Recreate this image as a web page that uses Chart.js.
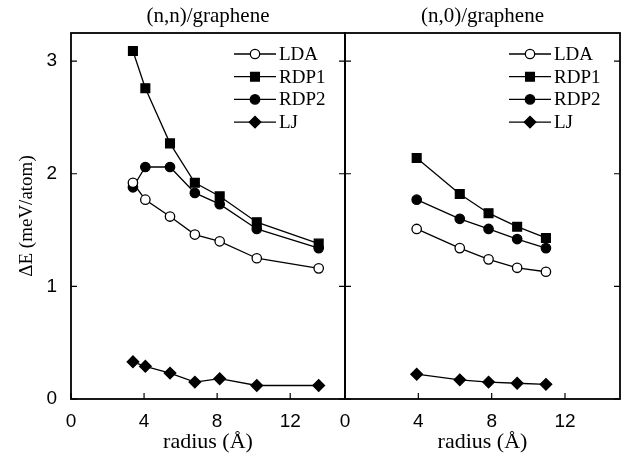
<!DOCTYPE html>
<html>
<head>
<meta charset="utf-8">
<script src="https://cdn.jsdelivr.net/npm/chart.js@4/dist/chart.umd.min.js"></script>
<style>
    body { margin: 0; background: #fff; }
    #wrap { position: relative; width: 631px; height: 457px; }
    canvas { position: absolute; top: 0; }
    #izq { left: 0; }
    #der { left: 335px; }
</style>
</head>
<body>
<div id="wrap">
    <canvas id="izq" width="355" height="457"></canvas>
    <canvas id="der" width="296" height="457"></canvas>
</div>
<script>
// radios de los tubos (Å)
const radioNN = [3.39, 4.07, 5.42, 6.78, 8.14, 10.17, 13.56];
const radioN0 = [3.91, 6.26, 7.83, 9.39, 10.96];

// energias (meV/atom)
const nnLDA = [1.92, 1.77, 1.62, 1.46, 1.40, 1.25, 1.16];
const nnRDP1 = [3.09, 2.76, 2.27, 1.92, 1.80, 1.57, 1.38];
const nnRDP2 = [1.88, 2.06, 2.06, 1.83, 1.73, 1.51, 1.34];
const nnLJ = [0.33, 0.29, 0.23, 0.15, 0.18, 0.12, 0.12];

const n0LDA = [1.51, 1.34, 1.24, 1.165, 1.13];
const n0RDP1 = [2.14, 1.82, 1.65, 1.53, 1.43];
const n0RDP2 = [1.77, 1.60, 1.51, 1.42, 1.34];
const n0LJ = [0.22, 0.17, 0.15, 0.14, 0.13];

const series = ['LDA', 'RDP1', 'RDP2', 'LJ'];
const titulos = ['(n,n)/graphene', '(n,0)/graphene'];
const xTicks = [0, 4, 8, 12];
const yTicks = [0, 1, 2, 3];

const SERIF = "'Liberation Serif', 'DejaVu Serif', serif";
const SANS = "'Liberation Sans', Arial, sans-serif";

const estilos = {
    LDA: {pointStyle: 'circle', radius: 4.7, fill: '#fff'},
    RDP1: {pointStyle: 'rect', radius: 6.2, fill: '#000'},
    RDP2: {pointStyle: 'circle', radius: 4.7, fill: '#000'},
    LJ: {pointStyle: 'rectRot', radius: 5.8, fill: '#000'}
};

function juntar(xs, ys) {
    let puntos = [];
    for (let i = 0; i < xs.length; i++) {
        puntos.push({x: xs[i], y: ys[i]});
    }
    return puntos;
}

function dataset(nombre, xs, ys) {
    let e = estilos[nombre];
    return {
        label: nombre,
        data: juntar(xs, ys),
        showLine: true,
        borderColor: '#000',
        borderWidth: 1.3,
        pointStyle: e.pointStyle,
        pointRadius: e.radius,
        pointHoverRadius: e.radius,
        pointBackgroundColor: e.fill,
        pointBorderColor: '#000',
        pointBorderWidth: 1.3
    };
}

// marco con ticks hacia dentro
const marco = {
    id: 'marco',
    afterDraw(chart) {
        const {ctx, chartArea: a, scales} = chart;
        ctx.save();
        ctx.strokeStyle = '#000';
        ctx.lineWidth = 1.2;
        ctx.beginPath();
        xTicks.forEach(v => {
            let px = scales.x.getPixelForValue(v);
            ctx.moveTo(px, a.bottom);
            ctx.lineTo(px, a.bottom - 6);
        });
        yTicks.forEach(v => {
            let py = scales.y.getPixelForValue(v);
            ctx.moveTo(a.left, py);
            ctx.lineTo(a.left + 6, py);
            ctx.moveTo(a.right, py);
            ctx.lineTo(a.right - 6, py);
        });
        ctx.stroke();
        ctx.lineWidth = 1.8;
        ctx.strokeRect(a.left, a.top, a.right - a.left, a.bottom - a.top);
        ctx.restore();
    }
};

// leyenda linea-marcador-linea
const leyenda = {
    id: 'leyenda',
    afterDatasetsDraw(chart) {
        const {ctx, chartArea: a} = chart;
        ctx.save();
        chart.data.datasets.forEach((ds, i) => {
            let y = a.top + 21 + i * 22.7;
            let x0 = a.right - 111;
            ctx.strokeStyle = '#000';
            ctx.lineWidth = 1.3;
            ctx.beginPath();
            ctx.moveTo(x0, y);
            ctx.lineTo(x0 + 42, y);
            ctx.stroke();
            ctx.fillStyle = ds.pointBackgroundColor;
            Chart.helpers.drawPoint(ctx, {
                pointStyle: ds.pointStyle,
                radius: ds.pointRadius,
                rotation: 0,
                borderWidth: 1.3
            }, x0 + 21, y);
            ctx.fillStyle = '#000';
            ctx.font = '19px ' + SERIF;
            ctx.textBaseline = 'middle';
            ctx.textAlign = 'left';
            ctx.fillText(ds.label, x0 + 45, y + 1);
        });
        ctx.restore();
    }
};

function opciones(titulo, izquierda) {
    return {
        responsive: false,
        animation: false,
        layout: {padding: {left: izquierda ? 0 : 10, right: izquierda ? 10 : 11, top: 0, bottom: 0}},
        plugins: {
            legend: {display: false},
            tooltip: {enabled: false},
            title: {
                display: true,
                text: titulo,
                fullSize: false,
                color: '#000',
                font: {family: SERIF, size: 21, weight: 'normal'},
                padding: {top: 4, bottom: 3.8}
            }
        },
        scales: {
            x: {
                type: 'linear',
                min: 0,
                max: 15,
                grid: {display: false},
                border: {display: false},
                afterBuildTicks: (s) => { s.ticks = xTicks.map(v => ({value: v})); },
                afterFit: (s) => { s.height = 58; },
                ticks: {color: '#000', font: {family: SANS, size: 19}, padding: 3},
                title: {
                    display: true,
                    text: 'radius (Å)',
                    color: '#000',
                    font: {family: SERIF, size: 22},
                    padding: {top: 0, bottom: 2}
                }
            },
            y: {
                type: 'linear',
                min: 0,
                max: 3.25,
                grid: {display: false},
                border: {display: false},
                afterBuildTicks: (s) => { s.ticks = yTicks.map(v => ({value: v})); },
                afterFit: (s) => { s.width = izquierda ? 71 : 0; },
                ticks: {display: izquierda, color: '#000', font: {family: SANS, size: 19}, padding: 6},
                title: {
                    display: izquierda,
                    text: 'ΔE (meV/atom)',
                    color: '#000',
                    font: {family: SERIF, size: 19},
                    padding: {top: 16, bottom: 0}
                }
            }
        }
    };
}

new Chart(document.getElementById('izq'), {
    type: 'scatter',
    data: {
        datasets: [
            dataset('LDA', radioNN, nnLDA),
            dataset('RDP1', radioNN, nnRDP1),
            dataset('RDP2', radioNN, nnRDP2),
            dataset('LJ', radioNN, nnLJ)
        ]
    },
    options: opciones(titulos[0], true),
    plugins: [marco, leyenda]
});

new Chart(document.getElementById('der'), {
    type: 'scatter',
    data: {
        datasets: [
            dataset('LDA', radioN0, n0LDA),
            dataset('RDP1', radioN0, n0RDP1),
            dataset('RDP2', radioN0, n0RDP2),
            dataset('LJ', radioN0, n0LJ)
        ]
    },
    options: opciones(titulos[1], false),
    plugins: [marco, leyenda]
});
</script>
</body>
</html>
